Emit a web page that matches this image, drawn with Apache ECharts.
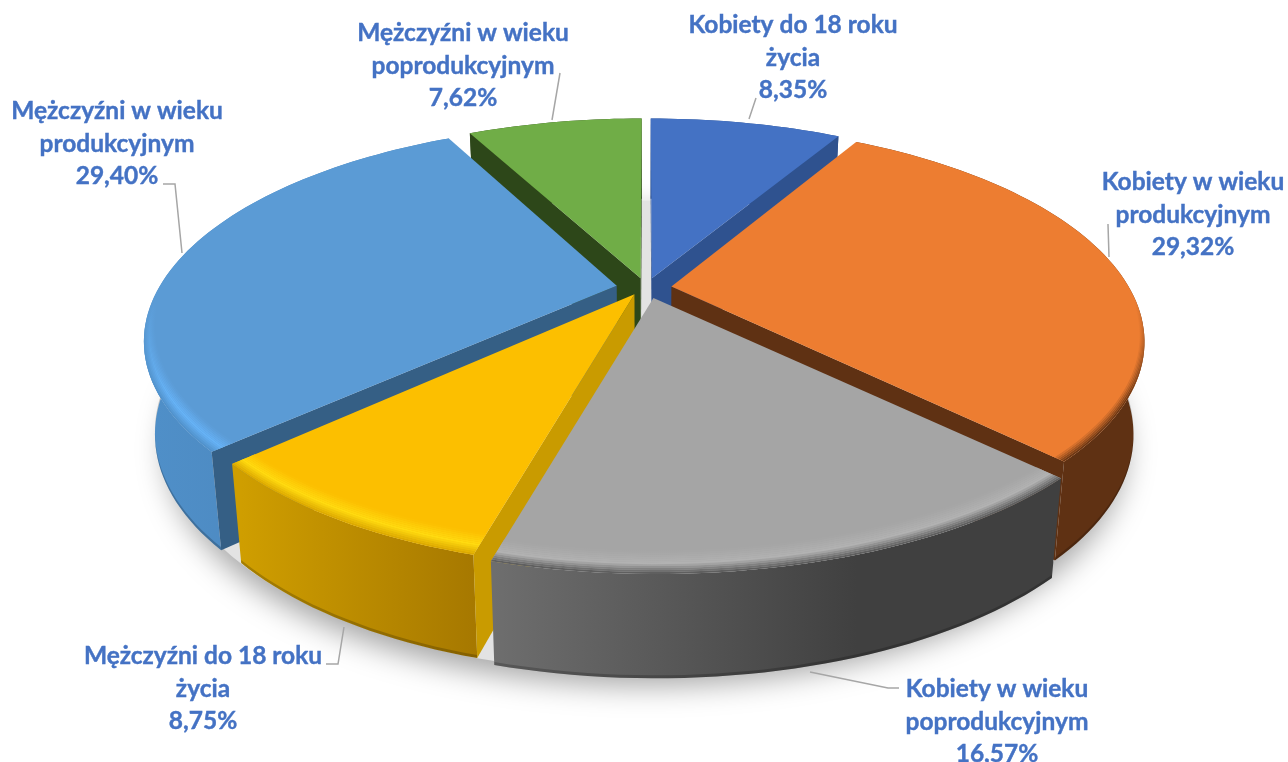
<!DOCTYPE html>
<html><head><meta charset="utf-8">
<style>html,body{margin:0;padding:0;background:#fff}#c{width:1288px;height:762px}</style>
<script src="https://cdn.jsdelivr.net/npm/echarts@6/dist/echarts.min.js"></script>
</head><body><div id="c"></div>
<script>
// ---- data ----
const categories = [
  'Kobiety do 18 roku\nżycia',
  'Kobiety w wieku\nprodukcyjnym',
  'Kobiety w wieku\npoprodukcyjnym',
  'Mężczyźni do 18 roku\nżycia',
  'Mężczyźni w wieku\nprodukcyjnym',
  'Mężczyźni w wieku\npoprodukcyjnym'
];
const values = [8.35, 29.32, 16.57, 8.75, 29.40, 7.62];

// ---- styling / layout ----
const topColors  = ['#4472c4','#ed7d31','#a5a5a5','#fcbf00','#5b9bd5','#70ad47'];
const wallColors = ['#2f528f','#5f3113','#4a4a4a','#c99b00','#355f85','#2d4719'];
const sideStops  = [['#2f528f','#2f528f'],['#5f3113','#5f3113'],['#6e6e6e','#404040'],['#cf9e00','#a67800'],['#4f8fc8','#4a80b5'],['#2d4719','#2d4719']];
const bevelHi    = ['#4472c4','#ed7d31','#b2b2b2','#ffdb10','#66b3f8','#70ad47'];
const bevelLow   = ['#2f528f','#5f3113','#565656','#d8a500','#4f8fc8','#2d4719'];
const drawRank   = [1,3,5,4,2,0];
const explosion  = [0.05,0.056,0.05,0.035,0.065,0.05];
const sliceScaleX = [1,1,1.031,0.99,1,1];
const sliceNudge = [0,0,0.0035,-0.007,0,0];
const labelAnchors = [[793,25],[1193,182],[997,689],[203,656],[117,111],[463,33]];
const leaders = [
  [[749,119],[756,98]],
  [[1109,257],[1108,224]],
  [[810,672],[888,688],[899,688]],
  [[344,627],[338,664],[326,664]],
  [[182,253],[175,184],[163,184]],
  [[552,120],[560,73]]
];
const CX=646, CY=288, RX=458, RY=203, PERSP=0.244, DEPTH=90, SHRINK=0.978, FONT=24.5, LH=32.7;

function proj(x,y,low){
  const s=1/(1-PERSP*y);
  let X=CX+RX*x*s, Y=CY+RY*y*s;
  if(low){ X=CX+(X-CX)*SHRINK; Y+=DEPTH*Math.sqrt(s); }
  return [X,Y];
}
function hex(c){return [1,3,5].map(i=>parseInt(c.substr(i,2),16));}
function mix(a,b,t,al){const A=hex(a),B=hex(b);const m=A.map((v,i)=>Math.round(v+(B[i]-v)*t));return `rgba(${m[0]},${m[1]},${m[2]},${al})`;}
const total=values.reduce((a,b)=>a+b,0);
const TAU=Math.PI*2;
const G=echarts.graphic;

function renderSlice(params,api){
  const i=params.dataIndex, v=api.value(0);
  let before=0; for(let k=0;k<i;k++) before+=values[k];
  const a0=before/total*TAU, a1=(before+v)/total*TAU, mid=(a0+a1)/2;
  const ox=explosion[i]*Math.sin(mid)+sliceNudge[i], oy=-explosion[i]*Math.cos(mid), R=sliceScaleX[i];
  const n=Math.max(8,Math.ceil((a1-a0)/(Math.PI/120)));
  const angs=[]; for(let k=0;k<=n;k++) angs.push(a0+(a1-a0)*k/n);
  const pt=(a,r,low)=>proj(ox+R*r*Math.sin(a),oy-r*Math.cos(a),low);
  const apexT=proj(ox,oy,false), apexB=proj(ox,oy,true);
  const rimT=angs.map(a=>pt(a,1,false)), rimB=angs.map(a=>pt(a,1,true));
  const base=drawRank[i]*100+10;
  const kids=[];
  const poly=(points,fill,z,extra)=>kids.push({type:'polygon',z2:z,silent:true,shape:{points},style:Object.assign({fill,lineWidth:0},extra||{})});

  // ground shadow (only once, under everything)
  if(i===0){
    const ring=[]; for(let k=0;k<180;k++){const a=k/180*TAU; ring.push(proj(1.035*Math.sin(a),-1.035*Math.cos(a),true));}
    poly(ring,'#e3e3e3',1,{shadowBlur:30,shadowColor:'rgba(0,0,0,0.36)',shadowOffsetY:12});
  }
  // outer side
  const xs=rimB.map(p=>p[0]); const xMin=Math.min(...xs), xMax=Math.max(...xs);
  const sideFill=new G.LinearGradient(xMin,0,i===2?xMin+(xMax-xMin)*0.65:xMax,0,[{offset:0,color:sideStops[i][0]},{offset:1,color:sideStops[i][1]}],true);
  poly(rimT.concat(rimB.slice().reverse()),sideFill,base);
  // dark foot of the side
  const footUp=rimB.map(p=>[p[0],p[1]-3]);
  poly(footUp.concat(rimB.slice().reverse()),'rgba(0,0,0,0.2)',base+1);
  // radial walls
  const startQ=rimT[0], endQ=rimT[n];
  if(startQ[0]-apexT[0]<-1) poly([apexT,startQ,rimB[0],apexB],wallColors[i],base+2);
  if(endQ[0]-apexT[0]>1) poly([apexT,endQ,rimB[n],apexB],wallColors[i],base+2);
  // top face
  poly([apexT].concat(rimT),topColors[i],base+3);
  // bevel along the front rim
  const BANDS=12;
  const dr=a=>0.01+0.055*Math.max(0,-Math.cos(a));
  for(let b=0;b<BANDS;b++){
    const f0=b/BANDS, f1=(b+1)/BANDS, fm=(f0+f1)/2; // 0 = outer edge, 1 = inner
    const outer=angs.map(a=>pt(a,1-dr(a)*f0,false));
    const inner=angs.map(a=>pt(a,1-dr(a)*f1,false));
    const col=al=>{
      if(fm<0.45) return mix(bevelLow[i],bevelHi[i],fm/0.45,al);
      return mix(bevelHi[i],topColors[i],(fm-0.45)/0.55,al);
    };
    const fill=new G.LinearGradient(0,CY+12,0,CY+110,[{offset:0,color:col(0)},{offset:1,color:col(1)}],true);
    poly(outer.concat(inner.slice().reverse()),fill,base+4+b);
  }
  // leader line
  kids.push({type:'polyline',z2:2000,silent:true,shape:{points:leaders[i]},style:{fill:'none',stroke:'#a6a6a6',lineWidth:1.5}});
  // label
  const lines=categories[i].split('\n').concat(v.toFixed(2).replace('.',',')+'%');
  lines.forEach((t,k)=>kids.push({type:'text',z2:2001,silent:true,x:labelAnchors[i][0],y:labelAnchors[i][1]+k*LH,
    style:{text:t,fill:'#4472c4',stroke:'#4472c4',lineWidth:0.4,font:`bold ${FONT}px Lato, "Open Sans", sans-serif`,textAlign:'center',textVerticalAlign:'middle'}}));
  return {type:'group',children:kids};
}

const chart=echarts.init(document.getElementById('c'),null,{renderer:'canvas'});
chart.setOption({
  animation:false,
  backgroundColor:'#fff',
  series:[{type:'custom',coordinateSystem:'none',renderItem:renderSlice,
    data:values.map((v,i)=>({name:categories[i],value:[v]}))}]
});
</script></body></html>
